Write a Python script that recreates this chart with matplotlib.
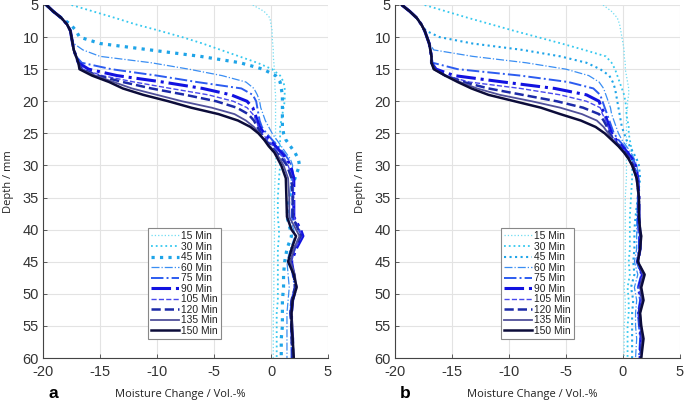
import matplotlib
matplotlib.use("Agg")
import matplotlib.pyplot as plt

# depth grid (mm), shared by every curve
depth = [5, 6, 7, 8, 9, 10, 11, 12, 13, 14, 15, 16, 17, 18, 19, 20, 21, 22, 23, 24,
         25, 26, 27, 28, 29, 30, 32, 35, 38, 40, 41, 43, 45, 47, 49, 51, 53, 55, 57, 60]

labels = ["15 Min", "30 Min", "45 Min", "60 Min", "75 Min",
          "90 Min", "105 Min", "120 Min", "135 Min", "150 Min"]

# panel a
a_15 = [-1.6, -0.6, -0.1, 0.0, 0.1, 0.1, 0.15, 0.2, 0.2, 0.25, 0.3, 0.3, 0.35, 0.35, 0.4, 0.4, 0.4, 0.4, 0.4, 0.4,
        0.4, 0.4, 0.4, 0.4, 0.4, 0.4, 0.35, 0.3, 0.3, 0.3, 0.3, 0.3, 0.25, 0.25, 0.25, 0.25, 0.2, 0.2, 0.2, 0.2]
a_30 = [-17.5, -15.6, -13.7, -11.9, -9.8, -7.8, -6.0, -4.4, -2.8, -1.2, 0.1, 0.8, 1.1, 1.2, 1.2, 1.2, 1.1, 1.0, 0.9, 0.8,
        0.8, 0.8, 0.8, 0.9, 0.9, 0.8, 0.7, 0.6, 0.6, 0.7, 0.7, 0.6, 0.6, 0.6, 0.6, 0.6, 0.5, 0.5, 0.5, 0.5]
a_45 = [-19.7, -19.1, -18.4, -17.6, -17.1, -16.8, -15.0, -10.6, -6.2, -2.7, -0.7, 0.4, 0.8, 0.9, 1.0, 1.0, 1.0, 1.0, 1.0, 1.0,
        1.1, 1.3, 1.7, 2.1, 2.4, 2.5, 2.1, 1.6, 1.4, 1.7, 1.8, 1.4, 1.2, 1.1, 1.1, 1.0, 1.0, 1.0, 0.9, 0.9]
a_60 = [-19.7, -19.1, -18.4, -17.9, -17.6, -17.5, -17.3, -16.5, -15.0, -10.5, -7.2, -4.3, -2.2, -1.5, -1.2, -1.0, -0.9, -0.7, -0.5, -0.2,
        0.1, 0.5, 0.9, 1.3, 1.7, 1.9, 1.8, 1.6, 1.6, 2.0, 2.1, 1.7, 1.4, 1.5, 1.6, 1.5, 1.4, 1.4, 1.4, 1.4]
a_75 = [-19.7, -19.1, -18.4, -17.9, -17.6, -17.5, -17.4, -17.3, -17.1, -16.6, -14.0, -10.0, -6.5, -2.6, -1.6, -1.3, -1.2, -1.1, -1.0, -0.8,
        -0.4, 0.1, 0.6, 1.1, 1.5, 1.8, 2.0, 1.9, 1.8, 2.4, 2.7, 2.1, 1.7, 1.9, 2.1, 1.8, 1.7, 1.8, 1.8, 1.8]
a_90 = [-19.7, -19.1, -18.4, -17.9, -17.6, -17.5, -17.4, -17.3, -17.1, -16.9, -16.0, -13.5, -9.5, -6.0, -3.5, -2.1, -1.6, -1.4, -1.2, -1.0,
        -0.6, -0.1, 0.4, 0.9, 1.4, 1.7, 2.0, 2.0, 2.0, 2.6, 2.8, 2.2, 1.8, 2.0, 2.2, 1.9, 1.8, 1.8, 1.9, 1.9]
a_105 = [-19.7, -19.1, -18.4, -17.9, -17.6, -17.5, -17.4, -17.3, -17.1, -16.9, -16.5, -14.8, -12.0, -8.8, -5.5, -3.3, -2.1, -1.6, -1.3, -1.1,
         -0.8, -0.3, 0.2, 0.7, 1.2, 1.5, 1.9, 2.0, 2.0, 2.5, 2.7, 2.1, 1.8, 2.0, 2.2, 1.9, 1.8, 1.8, 1.9, 1.9]
a_120 = [-19.7, -19.1, -18.4, -17.9, -17.6, -17.5, -17.4, -17.3, -17.1, -16.9, -16.6, -15.2, -13.0, -10.5, -7.5, -4.8, -3.0, -2.0, -1.5, -1.2,
         -0.9, -0.5, 0.0, 0.5, 1.0, 1.4, 1.8, 1.9, 1.9, 2.4, 2.6, 2.0, 1.7, 2.0, 2.1, 1.8, 1.7, 1.8, 1.8, 1.9]
a_135 = [-19.7, -19.1, -18.4, -17.9, -17.6, -17.5, -17.4, -17.3, -17.1, -16.9, -16.7, -15.4, -13.8, -12.2, -10.0, -7.8, -5.2, -3.2, -2.2, -1.5,
         -1.0, -0.6, -0.1, 0.4, 0.8, 1.1, 1.5, 1.6, 1.6, 2.2, 2.5, 2.0, 1.7, 2.1, 2.2, 1.9, 1.8, 1.9, 1.9, 2.0]
a_150 = [-19.7, -19.1, -18.4, -17.9, -17.6, -17.5, -17.4, -17.3, -17.1, -16.9, -16.8, -15.7, -14.2, -13.0, -11.2, -9.0, -7.0, -4.6, -2.9, -1.8,
         -1.1, -0.6, -0.2, 0.3, 0.6, 0.9, 1.3, 1.35, 1.4, 1.8, 2.2, 1.8, 1.5, 2.0, 2.25, 1.9, 1.8, 1.8, 1.9, 2.0]

# panel b
b_15 = [-1.75, -1.0, -0.5, -0.3, -0.2, -0.1, 0.0, 0.1, 0.1, 0.2, 0.2, 0.3, 0.4, 0.5, 0.5, 0.4, 0.4, 0.3, 0.3, 0.3,
        0.3, 0.3, 0.3, 0.3, 0.3, 0.3, 0.3, 0.2, 0.2, 0.2, 0.2, 0.2, 0.2, 0.2, 0.1, 0.2, 0.2, 0.1, 0.1, 0.1]
b_30 = [-17.4, -15.5, -13.6, -11.6, -9.6, -7.5, -5.4, -3.4, -1.5, -1.0, -0.7, -0.5, -0.3, -0.1, 0.1, 0.2, 0.3, 0.3, 0.4, 0.5,
        0.5, 0.6, 0.7, 0.8, 0.8, 0.8, 0.8, 0.7, 0.6, 0.6, 0.6, 0.6, 0.5, 0.6, 0.4, 0.5, 0.5, 0.4, 0.4, 0.4]
b_45 = [-19.4, -18.7, -18.1, -17.7, -17.3, -16.1, -13.2, -8.8, -5.5, -3.2, -2.0, -1.2, -0.9, -0.7, -0.6, -0.5, -0.4, -0.3, -0.2, -0.1,
        0.1, 0.3, 0.6, 0.9, 1.2, 1.4, 1.5, 1.3, 1.1, 1.0, 1.0, 1.0, 0.9, 1.0, 0.7, 0.9, 0.8, 0.8, 0.8, 0.8]
b_60 = [-19.4, -18.7, -18.1, -17.7, -17.4, -17.2, -17.0, -16.6, -13.2, -8.5, -5.0, -3.0, -2.1, -1.7, -1.5, -1.3, -1.1, -1.0, -0.8, -0.6,
        -0.4, -0.1, 0.3, 0.7, 1.0, 1.2, 1.4, 1.3, 1.2, 1.2, 1.2, 1.2, 1.0, 1.3, 1.0, 1.2, 1.1, 1.1, 1.2, 1.1]
b_75 = [-19.4, -18.7, -18.1, -17.7, -17.4, -17.2, -17.0, -16.9, -16.8, -16.7, -14.5, -9.0, -4.8, -2.6, -2.0, -1.8, -1.6, -1.4, -1.2, -1.0,
        -0.8, -0.4, 0.1, 0.5, 0.9, 1.1, 1.3, 1.3, 1.3, 1.3, 1.4, 1.4, 1.2, 1.6, 1.3, 1.5, 1.3, 1.4, 1.5, 1.4]
b_90 = [-19.4, -18.7, -18.1, -17.7, -17.4, -17.2, -17.0, -16.9, -16.8, -16.8, -16.4, -14.8, -10.5, -6.0, -3.2, -2.1, -1.9, -1.6, -1.4, -1.2,
        -1.0, -0.6, -0.1, 0.4, 0.8, 1.1, 1.3, 1.4, 1.4, 1.4, 1.5, 1.5, 1.3, 1.7, 1.4, 1.6, 1.4, 1.5, 1.6, 1.5]
b_105 = [-19.4, -18.7, -18.1, -17.7, -17.4, -17.2, -17.0, -16.9, -16.8, -16.8, -16.5, -15.5, -13.5, -9.0, -5.5, -3.2, -2.0, -1.8, -1.5, -1.3,
         -1.1, -0.7, -0.2, 0.3, 0.7, 1.0, 1.3, 1.4, 1.4, 1.4, 1.5, 1.5, 1.3, 1.7, 1.4, 1.6, 1.4, 1.5, 1.6, 1.5]
b_120 = [-19.4, -18.7, -18.1, -17.7, -17.4, -17.2, -17.0, -16.9, -16.8, -16.8, -16.5, -15.6, -14.0, -11.8, -8.8, -5.8, -3.5, -2.1, -1.7, -1.4,
         -1.2, -0.8, -0.3, 0.2, 0.6, 0.9, 1.2, 1.4, 1.4, 1.5, 1.5, 1.5, 1.3, 1.8, 1.5, 1.7, 1.4, 1.5, 1.7, 1.5]
b_135 = [-19.4, -18.7, -18.1, -17.7, -17.4, -17.2, -17.0, -16.9, -16.8, -16.8, -16.6, -15.6, -14.3, -12.8, -10.8, -8.0, -5.5, -3.6, -2.3, -1.7,
         -1.3, -0.9, -0.4, 0.1, 0.5, 0.8, 1.2, 1.4, 1.4, 1.5, 1.6, 1.5, 1.3, 1.8, 1.5, 1.7, 1.5, 1.6, 1.7, 1.6]
b_150 = [-19.4, -18.7, -18.1, -17.7, -17.4, -17.2, -17.0, -16.9, -16.8, -16.8, -16.6, -15.6, -14.5, -13.3, -11.8, -9.5, -7.2, -5.5, -3.7, -2.4,
         -1.6, -1.0, -0.4, 0.1, 0.5, 0.8, 1.2, 1.4, 1.4, 1.5, 1.6, 1.5, 1.3, 1.9, 1.6, 1.8, 1.5, 1.6, 1.8, 1.6]

panel_a = [a_15, a_30, a_45, a_60, a_75, a_90, a_105, a_120, a_135, a_150]
panel_b = [b_15, b_30, b_45, b_60, b_75, b_90, b_105, b_120, b_135, b_150]

# line styles, MATLAB-ish
colors = ["#6fdcf2", "#35c8ef", "#1ea4e8", "#3a8ef3", "#2c5cf0",
          "#1212e0", "#4848ee", "#1c2aa8", "#50509a", "#0c0c3a"]
styles = [":", ":", ":", "-.", "-.", "-.", "--", "--", "-", "-"]
widths = [0.9, 1.3, 2.3, 0.9, 1.4, 2.2, 1.0, 1.8, 1.3, 1.8]

plt.rcParams["font.family"] = ["Liberation Sans", "DejaVu Sans"]
plt.rcParams["axes.unicode_minus"] = False
fig = plt.figure(figsize=(6.85, 4.03), dpi=100)

W, H = 685, 403
panels = [(panel_a, 43, "a", 148), (panel_b, 395, "b", 501)]

for series, left_px, tag, leg_px in panels:
    ax = fig.add_axes([left_px / W, 1 - 358 / H, 285 / W, 353 / H])
    for i, vals in enumerate(series):
        lw = widths[i]
        if tag == "b" and i == 2:
            lw = 1.5
        ax.plot(vals, depth, color=colors[i], linestyle=styles[i], linewidth=lw, label=labels[i])
    ax.set_xlim(-20, 5)
    ax.set_ylim(60, 5)
    ax.set_xticks([-20, -15, -10, -5, 0, 5])
    ax.set_yticks(range(5, 61, 5))
    ax.grid(True, color="#e3e3e3", linewidth=0.8)
    ax.set_axisbelow(True)
    for s in ["top", "right"]:
        ax.spines[s].set_visible(False)
    for s in ["left", "bottom"]:
        ax.spines[s].set_color("#444444")
        ax.spines[s].set_linewidth(0.8)
    ax.tick_params(direction="in", length=3, width=0.6, colors="#444444",
                   labelsize=10.5, labelcolor="#333333", pad=3)
    ax.tick_params(axis="x", pad=5)
    leg = ax.legend(loc="upper left", bbox_to_anchor=(leg_px / W, 1 - 228 / H),
                    bbox_transform=fig.transFigure, fontsize=7.4, labelspacing=0.05,
                    handlelength=2.7, handletextpad=0.2, borderpad=0.3,
                    fancybox=False, framealpha=1, edgecolor="#888888", borderaxespad=0)
    leg.get_frame().set_linewidth(0.8)
    for t in leg.get_texts():
        t.set_color("#222222")

    fig.text((left_px + 10) / W, 1 - 394 / H, tag, fontsize=12.5, fontweight="bold",
             ha="center", va="center")
    fig.text((left_px + 137) / W, 1 - 394 / H, "Moisture Change / Vol.-%", fontsize=8,
             ha="center", va="center", family=["Open Sans", "DejaVu Sans"], color="#222222")
    fig.text((left_px - 34) / W, 1 - 182 / H, "Depth / mm", fontsize=8, rotation=90,
             ha="center", va="center", family=["Open Sans", "DejaVu Sans"], color="#222222")

fig.savefig("out.png", dpi=100)
